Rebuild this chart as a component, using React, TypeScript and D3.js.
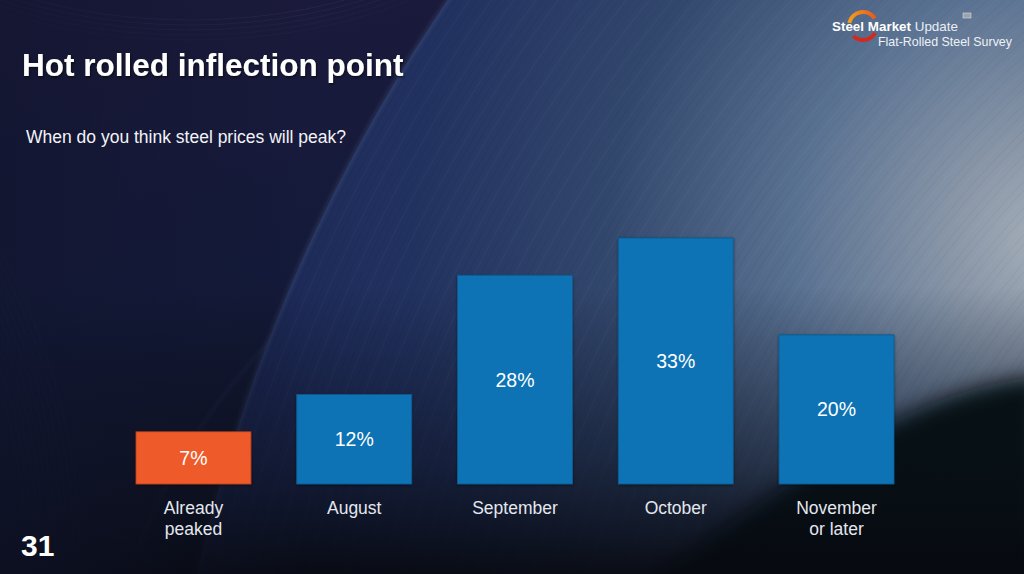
import * as d3 from 'd3'

const categories = ['Already peaked', 'August', 'September', 'October', 'November or later']
const labelLines = [['Already', 'peaked'], ['August'], ['September'], ['October'], ['November', 'or later']]
const shares = [7, 12, 28, 33, 20]
const highlight = 'Already peaked'

const title = 'Hot rolled inflection point'
const question = 'When do you think steel prices will peak?'
const pageNumber = '31'

const FONT = '"Liberation Sans", Arial, Helvetica, sans-serif'

export default function App() {
  const width = 1024
  const height = 574
  const plot = { left: 136, right: 894, baseline: 484, top: 238 }

  const x = d3
    .scaleBand<string>()
    .domain(categories)
    .range([plot.left, plot.right])
    .paddingInner(0.285)
    .paddingOuter(0)
  const y = d3
    .scaleLinear()
    .domain([0, d3.max(shares) ?? 33])
    .range([plot.baseline, plot.top])

  // big steel coil behind the chart
  const coil = { cx: 1826, cy: 943, r: 1670 }
  const rings = d3.range(coil.r - 900, coil.r, 6)
  const leftRings = d3.range(0, 60, 6)

  const logoArc = d3.arc<{ start: number; end: number }>()
    .innerRadius(12)
    .outerRadius(16)
    .startAngle((d) => d.start)
    .endAngle((d) => d.end)

  return (
    <svg
      width={width}
      height={height}
      viewBox={`0 0 ${width} ${height}`}
      style={{ position: 'fixed', left: 0, top: 0, display: 'block' }}
    >
      <defs>
        <linearGradient id="base" x1="0" y1="0" x2="0.35" y2="1">
          <stop offset="0" stopColor="#1c1a3c" />
          <stop offset="0.5" stopColor="#141a3a" />
          <stop offset="1" stopColor="#0c1120" />
        </linearGradient>
        <radialGradient id="coilFill" gradientUnits="userSpaceOnUse" cx="1050" cy="240" r="800">
          <stop offset="0" stopColor="#a6afba" />
          <stop offset="0.12" stopColor="#8a97a8" />
          <stop offset="0.32" stopColor="#5a7292" />
          <stop offset="0.55" stopColor="#33486d" />
          <stop offset="0.8" stopColor="#223260" />
          <stop offset="1" stopColor="#1c2856" />
        </radialGradient>
        <linearGradient id="bottomShade" x1="0" y1="0" x2="0" y2="1">
          <stop offset="0.5" stopColor="#0a0e18" stopOpacity="0" />
          <stop offset="0.8" stopColor="#0a0e18" stopOpacity="0.5" />
          <stop offset="1" stopColor="#07090f" stopOpacity="0.92" />
        </linearGradient>
        <linearGradient id="leftShade" x1="0" y1="0" x2="1" y2="0">
          <stop offset="0" stopColor="#10142c" stopOpacity="0.6" />
          <stop offset="0.3" stopColor="#10142c" stopOpacity="0" />
        </linearGradient>
        <filter id="blurBig" x="-20%" y="-20%" width="140%" height="140%">
          <feGaussianBlur stdDeviation="10" />
        </filter>
        <filter id="blurSmall">
          <feGaussianBlur stdDeviation="2" />
        </filter>
        <filter id="barShadow" x="-10%" y="-10%" width="120%" height="120%">
          <feDropShadow dx="0" dy="1" stdDeviation="1.5" floodColor="#000" floodOpacity="0.45" />
        </filter>
        <filter id="textShadow" x="-5%" y="-20%" width="110%" height="150%">
          <feDropShadow dx="1" dy="1.5" stdDeviation="1" floodColor="#000" floodOpacity="0.55" />
        </filter>
        <linearGradient id="orangeSwoosh" x1="0" y1="0" x2="1" y2="0">
          <stop offset="0" stopColor="#f6a11c" />
          <stop offset="1" stopColor="#e8561e" />
        </linearGradient>
        <clipPath id="coilClip">
          <circle cx={coil.cx} cy={coil.cy} r={coil.r} />
        </clipPath>
      </defs>

      {/* background */}
      <rect width={width} height={height} fill="url(#base)" />
      <g opacity="0.35">
        {[0, 1, 2, 3, 4].map((i) => (
          <ellipse
            key={i}
            cx={190}
            cy={-120}
            rx={300 + i * 8}
            ry={140 + i * 5}
            fill="none"
            stroke="#8a86b8"
            strokeWidth="0.8"
            strokeOpacity={0.35 - i * 0.05}
          />
        ))}
      </g>
      <g opacity="0.5">
        {leftRings.map((d) => (
          <circle
            key={d}
            cx={-560}
            cy={560}
            r={640 - d}
            fill="none"
            stroke="#2c3560"
            strokeWidth="1"
            strokeOpacity="0.5"
          />
        ))}
      </g>
      <circle
        cx={700}
        cy={760}
        r={600}
        fill="none"
        stroke="#3a4478"
        strokeOpacity="0.25"
        strokeWidth="3"
        filter="url(#blurSmall)"
      />
      <circle cx={coil.cx} cy={coil.cy} r={coil.r} fill="url(#coilFill)" />
      <g clipPath="url(#coilClip)">
        {rings.map((r, i) => (
          <circle
            key={r}
            cx={coil.cx}
            cy={coil.cy}
            r={r}
            fill="none"
            stroke={i % 3 === 0 ? '#ffffff' : '#0b1430'}
            strokeOpacity={i % 3 === 0 ? 0.04 : 0.05}
            strokeWidth="1"
          />
        ))}
      </g>
      <circle
        cx={coil.cx}
        cy={coil.cy}
        r={coil.r}
        fill="none"
        stroke="#6a7fa6"
        strokeOpacity="0.4"
        strokeWidth="2"
        filter="url(#blurSmall)"
      />
      <path
        d="M620,600 C700,545 800,470 885,425 C945,395 990,382 1040,376 L1040,600 Z"
        fill="#06080c"
        filter="url(#blurBig)"
        opacity="0.95"
      />
      <rect width={width} height={height} fill="url(#bottomShade)" />
      <rect width={width} height={height} fill="url(#leftShade)" />

      {/* logo */}
      <g transform="translate(863,26)">
        <path d={logoArc({ start: -1.35, end: 1.0 }) ?? ''} fill="url(#orangeSwoosh)" />
        <path d={logoArc({ start: 2.1, end: 3.9 }) ?? ''} fill="#d22a1f" />
      </g>
      <text x={832} y={31} fontFamily={FONT} fontSize="13" fill="#ffffff" textLength={126} lengthAdjust="spacingAndGlyphs">
        <tspan fontWeight="bold">Steel Market</tspan>
        <tspan fill="#e9eef3"> Update</tspan>
      </text>
      <text x={878} y={46} fontFamily={FONT} fontSize="13" fill="#eef1f5" textLength={134} lengthAdjust="spacingAndGlyphs">
        Flat-Rolled Steel Survey
      </text>
      <rect x={963} y={13} width={8} height={5} fill="#9aa3ad" stroke="#d7dce2" strokeWidth="0.6" />

      {/* headings */}
      <text x={22} y={76} fontFamily={FONT} fontSize="31.5" fontWeight="bold" fill="#ffffff" filter="url(#textShadow)">
        {title}
      </text>
      <text x={26} y={143} fontFamily={FONT} fontSize="17.5" fill="#f2f3f7">
        {question}
      </text>

      {/* bars */}
      {categories.map((category, i) => {
        const value = shares[i]
        const bx = x(category) ?? 0
        const by = y(value)
        const bh = y(0) - by
        const cx = bx + x.bandwidth() / 2
        return (
          <g key={category}>
            <rect
              x={bx}
              y={by}
              width={x.bandwidth()}
              height={bh}
              fill={category === highlight ? '#ee5a2b' : '#1173b4'}
              stroke={category === highlight ? '#b8401c' : '#0d5b90'}
              strokeWidth="0.8"
              filter="url(#barShadow)"
            />
            <text
              x={cx}
              y={by + bh / 2}
              dy="0.36em"
              textAnchor="middle"
              fontFamily={FONT}
              fontSize="19.5"
              fill="#ffffff"
            >
              {value}%
            </text>
            {labelLines[i].map((line, j) => (
              <text
                key={line}
                x={cx}
                y={514 + j * 21}
                textAnchor="middle"
                fontFamily={FONT}
                fontSize="17.5"
                fill="#e4e7ee"
              >
                {line}
              </text>
            ))}
          </g>
        )
      })}

      <text x={21} y={556} fontFamily={FONT} fontSize="30" fontWeight="bold" fill="#ffffff">
        {pageNumber}
      </text>
    </svg>
  )
}
